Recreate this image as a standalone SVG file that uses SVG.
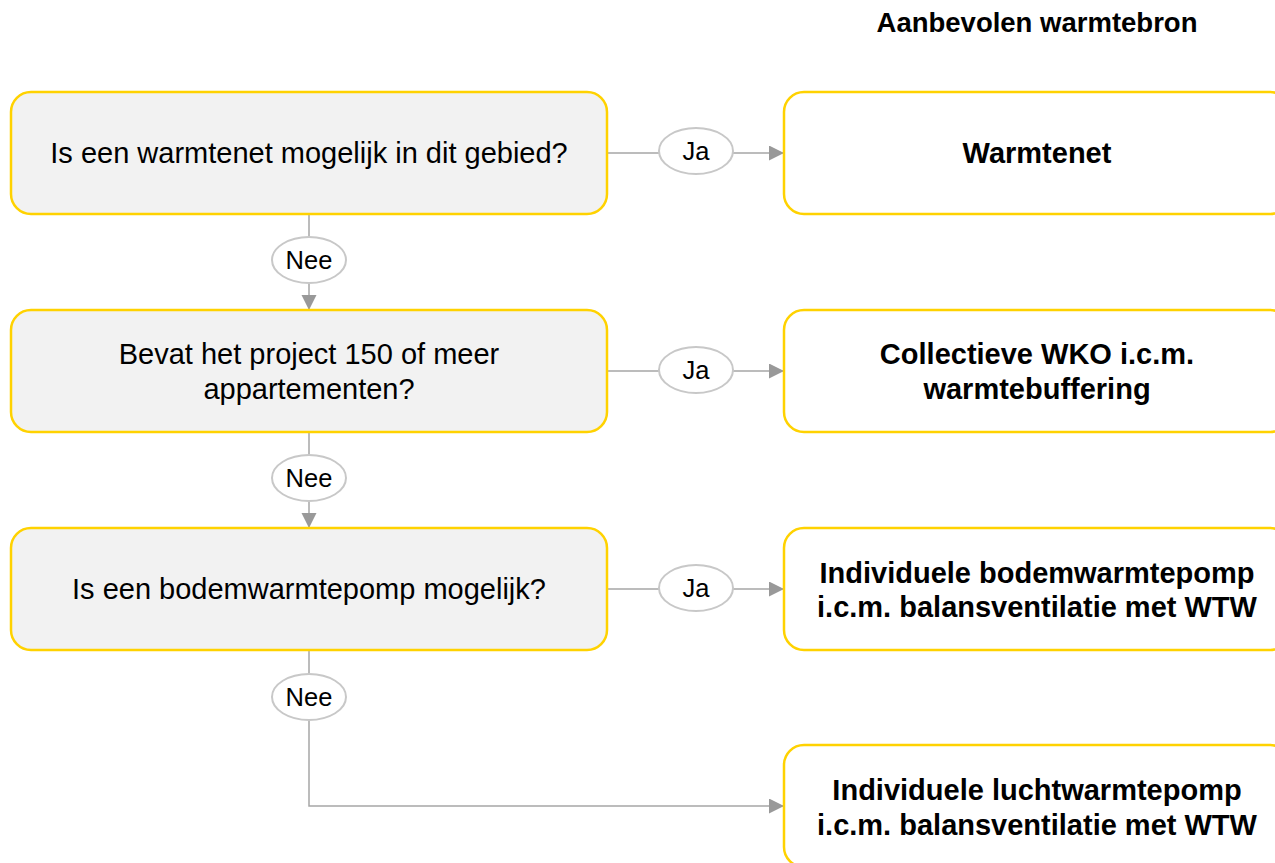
<svg xmlns="http://www.w3.org/2000/svg" width="1275" height="863" viewBox="0 0 1275 863">
<style>
.q{fill:#f2f2f2;stroke:#ffd200;stroke-width:2.5}
.a{fill:#ffffff;stroke:#ffd200;stroke-width:2.5}
.qt{font-family:"Liberation Sans",Arial,sans-serif;font-size:29px;fill:#000;text-anchor:middle}
.at{font-family:"Liberation Sans",Arial,sans-serif;font-size:29px;font-weight:bold;fill:#000;text-anchor:middle}
.ln{fill:none;stroke:#a6a6a6;stroke-width:1.5}
.lb{fill:#fff;stroke:#c8c8c8;stroke-width:2}
.lt{font-family:"Liberation Sans",Arial,sans-serif;font-size:25.5px;fill:#000;text-anchor:middle}
</style>
<defs>
<marker id="arr" markerWidth="16" markerHeight="16" refX="15" refY="7.5" orient="auto" markerUnits="userSpaceOnUse">
<path d="M0,0 L15,7.5 L0,15 Z" fill="#999999"/>
</marker>
</defs>
<rect width="1275" height="863" fill="#ffffff"/>
<text x="1037" y="32" class="at" style="font-size:27.5px">Aanbevolen warmtebron</text>
<g id="connectors">
<path class="ln" d="M607,153 H784" marker-end="url(#arr)"/>
<path class="ln" d="M607,371 H784" marker-end="url(#arr)"/>
<path class="ln" d="M607,589 H784" marker-end="url(#arr)"/>
<path class="ln" d="M309,214 V310" marker-end="url(#arr)"/>
<path class="ln" d="M309,432 V528" marker-end="url(#arr)"/>
<path class="ln" d="M309,650 V806 H784" marker-end="url(#arr)"/>
<g id="label-ja1"><ellipse class="lb" cx="696" cy="151" rx="37" ry="23"/><text class="lt" x="696" y="160">Ja</text></g>
<g id="label-ja2"><ellipse class="lb" cx="696" cy="370" rx="37" ry="23"/><text class="lt" x="696" y="379">Ja</text></g>
<g id="label-ja3"><ellipse class="lb" cx="696" cy="588" rx="37" ry="23"/><text class="lt" x="696" y="597">Ja</text></g>
<g id="label-nee1"><ellipse class="lb" cx="309" cy="260" rx="37" ry="23"/><text class="lt" x="309" y="269">Nee</text></g>
<g id="label-nee2"><ellipse class="lb" cx="309" cy="478" rx="37" ry="23"/><text class="lt" x="309" y="487">Nee</text></g>
<g id="label-nee3"><ellipse class="lb" cx="309" cy="697" rx="37" ry="23"/><text class="lt" x="309" y="706">Nee</text></g>
</g>
<g id="q1"><rect class="q" x="11" y="92" width="596" height="122" rx="20"/><text class="qt" x="309" y="163">Is een warmtenet mogelijk in dit gebied?</text></g>
<g id="q2"><rect class="q" x="11" y="310" width="596" height="122" rx="20"/><text class="qt" x="309" y="364">Bevat het project 150 of meer</text><text class="qt" x="309" y="399">appartementen?</text></g>
<g id="q3"><rect class="q" x="11" y="528" width="596" height="122" rx="20"/><text class="qt" x="309" y="599">Is een bodemwarmtepomp mogelijk?</text></g>
<g id="a1"><rect class="a" x="784" y="92" width="506" height="122" rx="20"/><text class="at" x="1037" y="163">Warmtenet</text></g>
<g id="a2"><rect class="a" x="784" y="310" width="506" height="122" rx="20"/><text class="at" x="1037" y="364">Collectieve WKO i.c.m.</text><text class="at" x="1037" y="399">warmtebuffering</text></g>
<g id="a3"><rect class="a" x="784" y="528" width="506" height="122" rx="20"/><text class="at" x="1037" y="583">Individuele bodemwarmtepomp</text><text class="at" x="1037" y="617">i.c.m. balansventilatie met WTW</text></g>
<g id="a4"><rect class="a" x="784" y="745" width="506" height="122" rx="20"/><text class="at" x="1037" y="800">Individuele luchtwarmtepomp</text><text class="at" x="1037" y="835">i.c.m. balansventilatie met WTW</text></g>
</svg>
